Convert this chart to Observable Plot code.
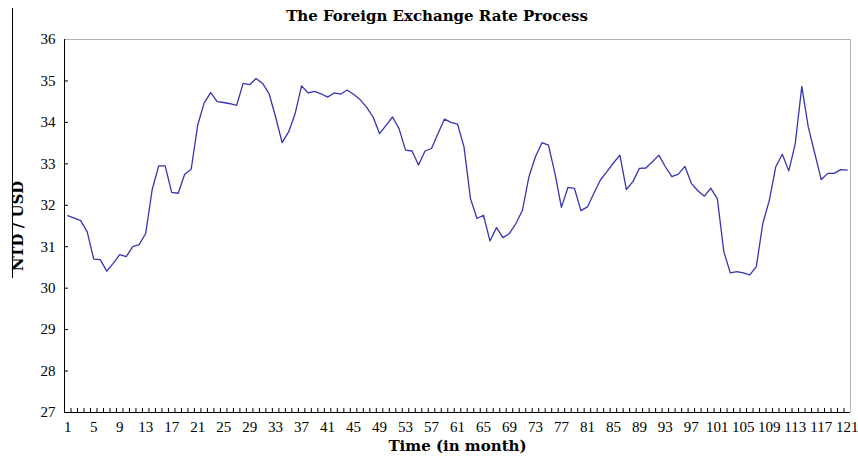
<!DOCTYPE html>
<html><head><meta charset="utf-8">
<script src="https://cdn.jsdelivr.net/npm/d3@7"></script>
<script src="https://cdn.jsdelivr.net/npm/@observablehq/plot@0.6"></script>
<style>
body{margin:0;background:#fff;}
#wrap{position:relative;width:858px;height:460px;}
#title{position:absolute;left:8px;top:7px;width:858px;text-align:center;font:bold 15px "DejaVu Serif",serif;color:#000;}
#edge{position:absolute;left:12px;top:8px;width:1px;height:270px;background:#000;}
</style></head><body>
<div id="wrap"><div id="title">The Foreign Exchange Rate Process</div><div id="edge"></div></div>
<script>
const months = d3.range(1, 122);
const rates = [
  31.75, 31.69, 31.63, 31.36, 30.70, 30.69, 30.41, 30.60, 30.81, 30.76,
  31.00, 31.05, 31.32, 32.38, 32.95, 32.95, 32.31, 32.29, 32.75, 32.87,
  33.93, 34.47, 34.72, 34.50, 34.48, 34.45, 34.41, 34.94, 34.91, 35.06,
  34.94, 34.69, 34.13, 33.51, 33.77, 34.21, 34.88, 34.71, 34.75, 34.69,
  34.61, 34.71, 34.68, 34.78, 34.68, 34.55, 34.37, 34.13, 33.73, 33.93,
  34.13, 33.85, 33.33, 33.31, 32.97, 33.31, 33.37, 33.73, 34.08, 34.00,
  33.96, 33.41, 32.16, 31.68, 31.76, 31.14, 31.46, 31.22, 31.32, 31.56,
  31.88, 32.69, 33.17, 33.51, 33.45, 32.77, 31.95, 32.43, 32.41, 31.87,
  31.96, 32.29, 32.61, 32.81, 33.02, 33.21, 32.38, 32.57, 32.89, 32.90,
  33.05, 33.21, 32.93, 32.69, 32.75, 32.94, 32.53, 32.35, 32.22, 32.41,
  32.16, 30.88, 30.37, 30.40, 30.37, 30.32, 30.52, 31.56, 32.12, 32.93,
  33.23, 32.83, 33.49, 34.87, 33.89, 33.25, 32.62, 32.77, 32.77, 32.86,
  32.85
];
const yTicks = [27, 28, 29, 30, 31, 32, 33, 34, 35, 36];
const xTickLabels = d3.range(1, 122, 4);
const xBoundaries = d3.range(1.5, 121, 1);
const titleY = "NTD / USD";
const titleX = "Time (in month)";

const data = months.map((m, i) => ({month: m, rate: rates[i]}));

const W = 858, H = 460, mT = 39, mB = 48, mL = 64, mR = 8;
const plotH = H - mT - mB, plotW = W - mL - mR;
const xMin = 0.5, xMax = 121.5;

const chart = Plot.plot({
  width: W, height: H,
  marginTop: mT, marginBottom: mB, marginLeft: mL, marginRight: mR,
  style: {fontFamily: "'Liberation Serif', serif", fontSize: "15px", background: "transparent", color: "#000", overflow: "hidden"},
  x: {domain: [xMin, xMax]},
  y: {domain: [27, 36]},
  marks: [
    Plot.ruleY([36], {x1: xMin, x2: xMax, stroke: "#b0b0b0"}),
    Plot.ruleX([xMax], {y1: 36, y2: 27, stroke: "#b0b0b0"}),
    Plot.ruleX(xBoundaries, {x: d => d, y1: 36, y2: 27, insetTop: plotH - 4, stroke: "#000"}),
    Plot.ruleY(yTicks.slice(1, -1), {y: d => d, x1: xMin, x2: xMax, insetRight: plotW - 4, stroke: "#000"}),
    Plot.ruleX([xMin], {y1: 36, y2: 27, stroke: "#000"}),
    Plot.ruleY([27], {x1: xMin, x2: xMax, stroke: "#000"}),
    Plot.axisY({ticks: yTicks, tickSize: 0, tickPadding: 9, label: null}),
    Plot.axisX({ticks: xTickLabels, tickSize: 0, tickPadding: 9, label: null}),
    Plot.line(data, {x: "month", y: "rate", stroke: "#3535b0", strokeWidth: 1.3}),
    Plot.text([titleY], {frameAnchor: "left", dx: -46, rotate: -90, textAnchor: "middle", text: d => d, fontWeight: "bold", fontSize: 15, fontFamily: "DejaVu Serif"}),
    Plot.text([titleX], {frameAnchor: "bottom", dy: 38, text: d => d, fontWeight: "bold", fontSize: 15, fontFamily: "DejaVu Serif"})
  ]
});
document.getElementById("wrap").prepend(chart);
chart.style.position = "absolute";
chart.style.left = "0";
chart.style.top = "0";
</script>
</body></html>
